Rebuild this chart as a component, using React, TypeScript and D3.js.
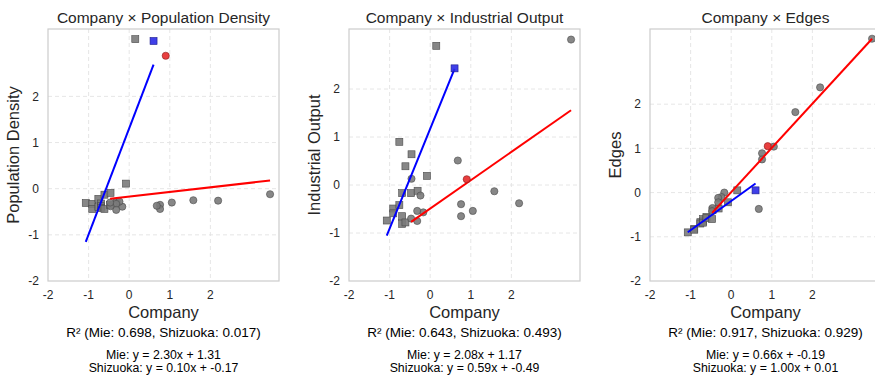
import React, { useEffect, useRef } from "react";
import * as d3 from "d3";

// Variables plotted against Company (standardised values)
const variables = ["Population Density", "Industrial Output", "Edges"];

// Mie cities (squares) – last one is highlighted
const mieCompany = [-1.07, -0.91, -0.91, -0.76, -0.76, -0.69, -0.69, -0.69, -0.61, -0.61, -0.47, -0.46, -0.31, -0.08, 0.15, 0.6];
const miePopDensity = [-0.31, -0.33, -0.44, -0.22, -0.4, -0.32, -0.38, -0.42, -0.13, -0.44, -0.35, -0.09, -0.3, 0.11, 3.24, 3.2];
const mieIndustrialOutput = [-0.74, -0.49, -0.59, 0.9, -0.42, -0.17, -0.65, -0.81, 0.39, -0.78, -0.17, 0.64, -0.12, 0.19, 2.9, 2.43];
const mieEdges = [-0.9, -0.82, -0.84, -0.67, -0.7, -0.65, -0.6, -0.68, -0.55, -0.58, -0.6, -0.4, -0.36, -0.22, 0.05, 0.05];
const mieHighlight = 15;

// Shizuoka cities (circles) – index 4 is highlighted
const shizuokaCompany = [3.47, 2.19, 1.58, 1.05, 0.9, 0.76, 0.76, 0.68, -0.17, -0.24, -0.32, -0.32, -0.46, -0.47];
const shizuokaPopDensity = [-0.12, -0.26, -0.25, -0.3, 2.88, -0.35, -0.44, -0.37, -0.39, -0.28, -0.33, -0.46, -0.38, -0.3];
const shizuokaIndustrialOutput = [3.03, -0.38, -0.13, -0.54, 0.12, -0.4, -0.65, 0.51, -0.57, -0.22, -0.54, -0.75, 0.13, -0.7];
const shizuokaEdges = [3.48, 2.38, 1.82, 1.04, 1.05, 0.89, 0.75, -0.37, 0.0, -0.1, -0.12, -0.22, -0.35, -0.42];
const shizuokaHighlight = 4;

// Fit results per variable
const r2Mie = [0.698, 0.643, 0.917];
const r2Shizuoka = [0.017, 0.493, 0.929];
const slopeMie = [2.3, 2.08, 0.66];
const interceptMie = [1.31, 1.17, -0.19];
const slopeShizuoka = [0.1, 0.59, 1.0];
const interceptShizuoka = [-0.17, -0.49, 0.01];

const tickValues = [-2, -1, 0, 1, 2];

const mieY = [miePopDensity, mieIndustrialOutput, mieEdges];
const shizuokaY = [shizuokaPopDensity, shizuokaIndustrialOutput, shizuokaEdges];

const WIDTH = 875;
const HEIGHT = 375;
const FONT = "'Liberation Sans', Arial, sans-serif";
const TEXT = "#262626";

const ScatterPanels = () => {
  const ref = useRef<SVGSVGElement>(null);

  useEffect(() => {
    const svg = d3.select(ref.current);
    svg.selectAll("*").remove();

    svg.append("rect").attr("width", WIDTH).attr("height", HEIGHT).attr("fill", "white");

    const plotW = 231;
    const plotH = 252;
    const top = 29;

    variables.forEach((name, i) => {
      const left = 48 + i * 301;
      const g = svg.append("g").attr("transform", `translate(${left},${top})`);

      const allX = [...mieCompany, ...shizuokaCompany];
      const allY = [...mieY[i], ...shizuokaY[i]];
      const x = d3.scaleLinear().domain([-2, d3.max(allX)! + 0.22]).range([0, plotW]);
      const y = d3.scaleLinear().domain([-2, d3.max(allY)! + 0.22]).range([plotH, 0]);

      // Grid (dashed)
      const grid = g.append("g")
        .attr("stroke", "#e3e3e3")
        .attr("stroke-width", 0.9)
        .attr("stroke-dasharray", "4,3");
      grid.selectAll("line.gx")
        .data(tickValues.slice(1))
        .join("line")
        .attr("class", "gx")
        .attr("x1", d => x(d)).attr("x2", d => x(d))
        .attr("y1", 0).attr("y2", plotH);
      grid.selectAll("line.gy")
        .data(tickValues.slice(1))
        .join("line")
        .attr("class", "gy")
        .attr("y1", d => y(d)).attr("y2", d => y(d))
        .attr("x1", 0).attr("x2", plotW);

      // Frame
      g.append("rect")
        .attr("width", plotW).attr("height", plotH)
        .attr("fill", "none").attr("stroke", "#cccccc").attr("stroke-width", 1.2);

      // Tick labels
      g.append("g")
        .selectAll("text")
        .data(tickValues)
        .join("text")
        .attr("x", d => x(d))
        .attr("y", plotH + 18)
        .attr("text-anchor", "middle")
        .attr("font-family", FONT).attr("font-size", 12).attr("fill", TEXT)
        .text(d => d);
      g.append("g")
        .selectAll("text")
        .data(tickValues)
        .join("text")
        .attr("x", -9)
        .attr("y", d => y(d))
        .attr("dy", "0.35em")
        .attr("text-anchor", "end")
        .attr("font-family", FONT).attr("font-size", 12).attr("fill", TEXT)
        .text(d => d);

      // Titles and labels
      g.append("text")
        .attr("x", plotW / 2).attr("y", -6)
        .attr("text-anchor", "middle")
        .attr("font-family", FONT).attr("font-size", 15.5).attr("fill", TEXT)
        .text(`Company × ${name}`);
      g.append("text")
        .attr("transform", `translate(-29,${plotH / 2}) rotate(-90)`)
        .attr("text-anchor", "middle")
        .attr("font-family", FONT).attr("font-size", 16.5).attr("fill", TEXT)
        .text(name);
      g.append("text")
        .attr("x", plotW / 2).attr("y", plotH + 37)
        .attr("text-anchor", "middle")
        .attr("font-family", FONT).attr("font-size", 16.5).attr("fill", TEXT)
        .text("Company");
      g.append("text")
        .attr("x", plotW / 2).attr("y", plotH + 56)
        .attr("text-anchor", "middle")
        .attr("font-family", FONT).attr("font-size", 13.5).attr("fill", "#000")
        .text(`R² (Mie: ${r2Mie[i].toFixed(3)}, Shizuoka: ${r2Shizuoka[i].toFixed(3)})`);
      g.append("text")
        .attr("x", plotW / 2).attr("y", plotH + 78)
        .attr("text-anchor", "middle")
        .attr("font-family", FONT).attr("font-size", 12.3).attr("fill", "#000")
        .text(`Mie: y = ${slopeMie[i].toFixed(2)}x + ${interceptMie[i].toFixed(2)}`);
      g.append("text")
        .attr("x", plotW / 2).attr("y", plotH + 91)
        .attr("text-anchor", "middle")
        .attr("font-family", FONT).attr("font-size", 12.3).attr("fill", "#000")
        .text(`Shizuoka: y = ${slopeShizuoka[i].toFixed(2)}x + ${interceptShizuoka[i].toFixed(2)}`);

      const mie = mieCompany.map((c, k) => ({ x: c, y: mieY[i][k], hi: k === mieHighlight }));
      const shz = shizuokaCompany.map((c, k) => ({ x: c, y: shizuokaY[i][k], hi: k === shizuokaHighlight }));

      const drawPoints = (layer, mieData, shzData) => {
        layer.selectAll("rect")
          .data(mieData)
          .join("rect")
          .attr("x", d => x(d.x) - 3.5).attr("y", d => y(d.y) - 3.5)
          .attr("width", 7).attr("height", 7)
          .attr("fill", d => d.hi ? "#2a2ae6" : "#7a7a7a")
          .attr("fill-opacity", 0.9)
          .attr("stroke", d => d.hi ? "#1a1a8a" : "#4a4a4a")
          .attr("stroke-width", 0.6);
        layer.selectAll("circle")
          .data(shzData)
          .join("circle")
          .attr("cx", d => x(d.x)).attr("cy", d => y(d.y))
          .attr("r", 3.6)
          .attr("fill", d => d.hi ? "#e62a2a" : "#7a7a7a")
          .attr("fill-opacity", 0.9)
          .attr("stroke", d => d.hi ? "#8a1a1a" : "#4a4a4a")
          .attr("stroke-width", 0.6);
      };

      const clip = `clip-${i}`;
      svg.append("clipPath").attr("id", clip)
        .append("rect").attr("x", -4).attr("y", -4).attr("width", plotW + 8).attr("height", plotH + 8);
      const inner = g.append("g").attr("clip-path", `url(#${clip})`);

      drawPoints(inner.append("g"), mie.filter(d => !d.hi), shz.filter(d => !d.hi));

      // Fit lines over each group's Company range
      const fits = [
        { ext: d3.extent(mieCompany) as number[], m: slopeMie[i], b: interceptMie[i], color: "#0000ff" },
        { ext: d3.extent(shizuokaCompany) as number[], m: slopeShizuoka[i], b: interceptShizuoka[i], color: "#ff0000" },
      ];
      fits.forEach(f => {
        const fitLine = d3.line<number>().x(d => x(d)).y(d => y(f.m * d + f.b));
        inner.append("path")
          .attr("d", fitLine(f.ext))
          .attr("fill", "none")
          .attr("stroke", f.color)
          .attr("stroke-width", 2);
      });

      drawPoints(inner.append("g"), mie.filter(d => d.hi), shz.filter(d => d.hi));
    });
  }, []);

  return (
    <svg
      ref={ref}
      width={WIDTH}
      height={HEIGHT}
      style={{ position: "absolute", left: 0, top: 0, display: "block" }}
    />
  );
};

export default function App() {
  return <ScatterPanels />;
}
